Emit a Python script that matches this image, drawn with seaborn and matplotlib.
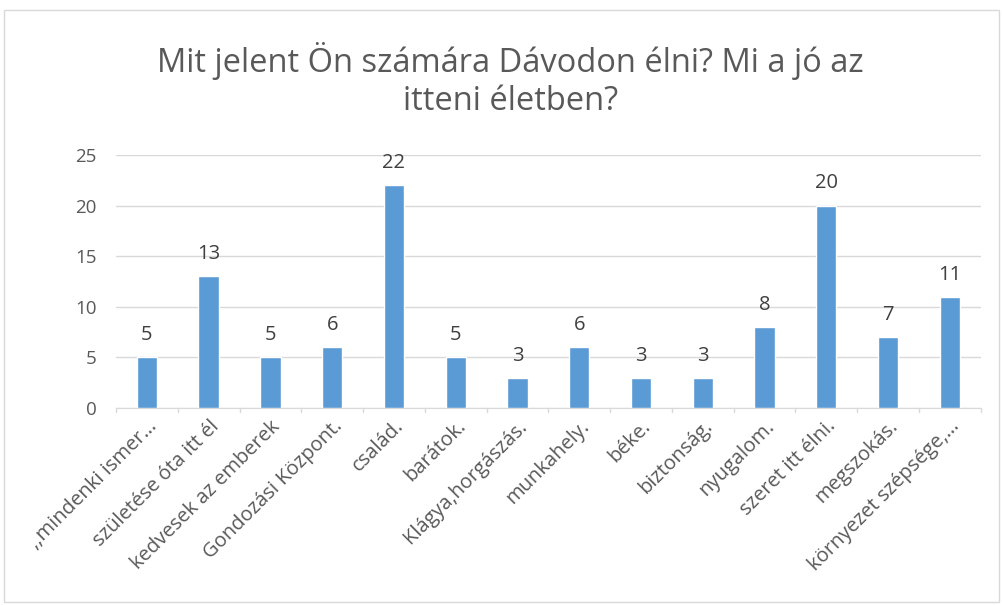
import matplotlib
matplotlib.use("Agg")
import matplotlib.pyplot as plt
import seaborn as sns
import pandas as pd
from matplotlib.patches import Rectangle

categories = [",,mindenki ismer…", "születése óta itt él", "kedvesek az emberek",
              "Gondozási Központ.", "család.", "barátok.", "Klágya,horgászás.",
              "munkahely.", "béke.", "biztonság.", "nyugalom.", "szeret itt élni.",
              "megszokás.", "környezet szépsége,…"]
values = [5, 13, 5, 6, 22, 5, 3, 6, 3, 3, 8, 20, 7, 11]
yticks = [0, 5, 10, 15, 20, 25]

df = pd.DataFrame({"cat": categories, "val": values})

sns.set_style("white")
plt.rcParams['font.family'] = ['Open Sans', 'DejaVu Sans']

fig = plt.figure(figsize=(10.03, 6.05), dpi=100)
ax = fig.add_axes([0.1157, 0.3256, 0.862, 0.4182])

sns.barplot(data=df, x="cat", y="val", color="#5B9BD5", width=0.33,
            saturation=1, ax=ax, zorder=3)

ax.set_ylim(0, 25)
ax.set_yticks(yticks)
ax.set_xlim(-0.5, len(categories) - 0.5)
ax.yaxis.grid(True, color="#D9D9D9", linewidth=1, zorder=0)
for s in ["top", "right", "left"]:
    ax.spines[s].set_visible(False)
ax.spines["bottom"].set_color("#D9D9D9")
ax.set_xlabel("")
ax.set_ylabel("")
ax.tick_params(axis="y", length=0, labelsize=13.5, labelcolor="#595959", pad=14)
ax.tick_params(axis="x", length=0, labelsize=14.5, labelcolor="#595959", pad=6)
ax.set_xticks(range(len(categories)))
ax.set_xticklabels(categories, rotation=45, ha="right", rotation_mode="anchor")
for i in range(len(categories) + 1):
    ax.plot([i - 0.5, i - 0.5], [0, -0.35], color="#D9D9D9", lw=1,
            clip_on=False, zorder=2)

for i, v in enumerate(values):
    ax.text(i, v + 1.2, str(v), ha="center", va="bottom", fontsize=14.5,
            color="#404040")

fig.text(0.509, 0.868, "Mit jelent Ön számára Dávodon élni? Mi a jó az\nitteni életben?",
         ha="center", va="center", fontsize=23.5, color="#595959",
         linespacing=1.2)

fig.patches.append(Rectangle((0.004, 0.005), 0.992, 0.978, transform=fig.transFigure,
                             fill=False, edgecolor="#D9D9D9", lw=1))

fig.savefig("out.png", dpi=100)
